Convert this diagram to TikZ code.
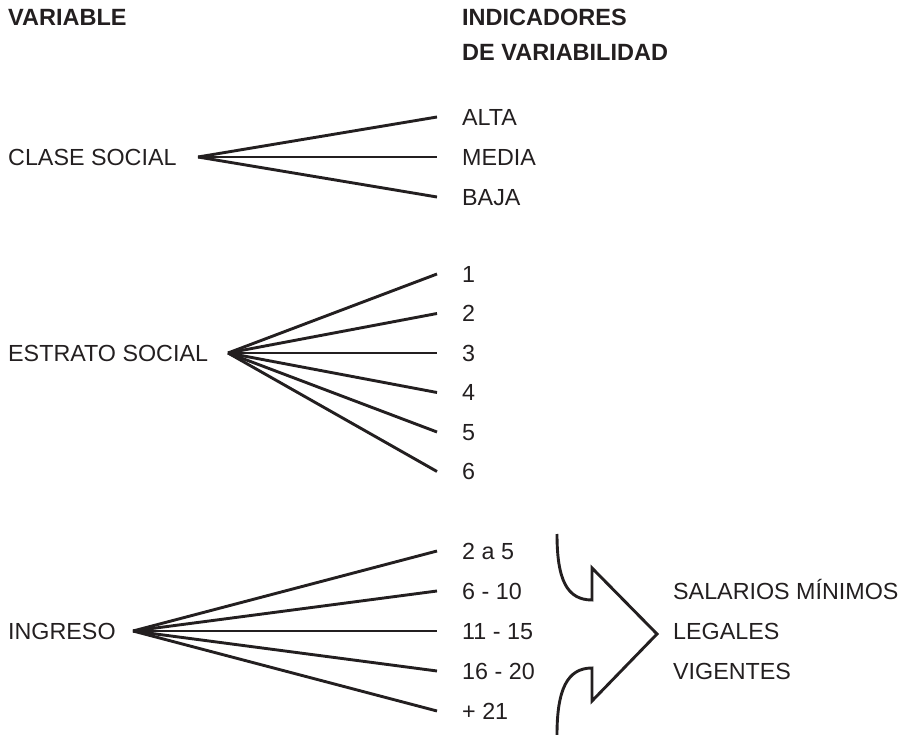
\documentclass[tikz,border=0pt]{standalone}
\usepackage{fontspec}
\setmainfont{Liberation Sans}
\definecolor{ink}{HTML}{231F20}
\begin{document}
\begin{tikzpicture}[x=1pt,y=-1pt,
  lbl/.style={anchor=west,inner sep=0pt,text=ink,font=\fontsize{23.3}{28}\selectfont,text height=16.7pt,text depth=0pt},
  hdr/.style={lbl,font=\fontsize{23.5}{28}\selectfont\bfseries},
  conn/.style={line width=2.9pt,draw=ink,line cap=butt},
  bigarrow/.style={line width=2.9pt,draw=ink,line join=miter}]
\useasboundingbox (0,0) rectangle (906,735);
% headers
\node[hdr] (var) at (8,17) {VARIABLE};
\node[hdr] (ind1) at (462,17) {INDICADORES};
\node[hdr] (ind2) at (462,52) {DE VARIABILIDAD};
% clase social
\node[lbl] (cs) at (8,157) {CLASE SOCIAL};
\coordinate (cso) at (198,157);
\node[lbl] (alta) at (462,117) {ALTA};
\node[lbl] (media) at (462,157) {MEDIA};
\node[lbl] (baja) at (462,197) {BAJA};
\foreach \n in {alta,media,baja}
  \draw[conn] (cso) -- ([xshift=-25pt]\n.west);
% estrato social
\node[lbl] (es) at (8,353) {ESTRATO SOCIAL};
\coordinate (eso) at (228,353);
\node[lbl] (e1) at (462,274) {1};
\node[lbl] (e2) at (462,313.5) {2};
\node[lbl] (e3) at (462,353) {3};
\node[lbl] (e4) at (462,392.5) {4};
\node[lbl] (e5) at (462,432) {5};
\node[lbl] (e6) at (462,471.5) {6};
\foreach \n in {e1,e2,e3,e4,e5,e6}
  \draw[conn] (eso) -- ([xshift=-25pt]\n.west);
% ingreso
\node[lbl] (ing) at (8,631) {INGRESO};
\coordinate (ingo) at (133,631);
\node[lbl] (i1) at (462,551) {2 a 5};
\node[lbl] (i2) at (462,591) {6 - 10};
\node[lbl] (i3) at (462,631) {11 - 15};
\node[lbl] (i4) at (462,671) {16 - 20};
\node[lbl] (i5) at (462,711) {+ 21};
\foreach \n in {i1,i2,i3,i4,i5}
  \draw[conn] (ingo) -- ([xshift=-25pt]\n.west);
% big arrow
\draw[bigarrow] (557,534) .. controls (557,580) and (567,600) .. (592,600)
  -- (592,568) -- (657,634) -- (592,701) -- (592,668)
  .. controls (567,668) and (557,690) .. (557,735);
\node[lbl] (sal) at (673,591) {SALARIOS MÍNIMOS};
\node[lbl] (leg) at (673,631) {LEGALES};
\node[lbl] (vig) at (673,671) {VIGENTES};
\end{tikzpicture}
\end{document}
